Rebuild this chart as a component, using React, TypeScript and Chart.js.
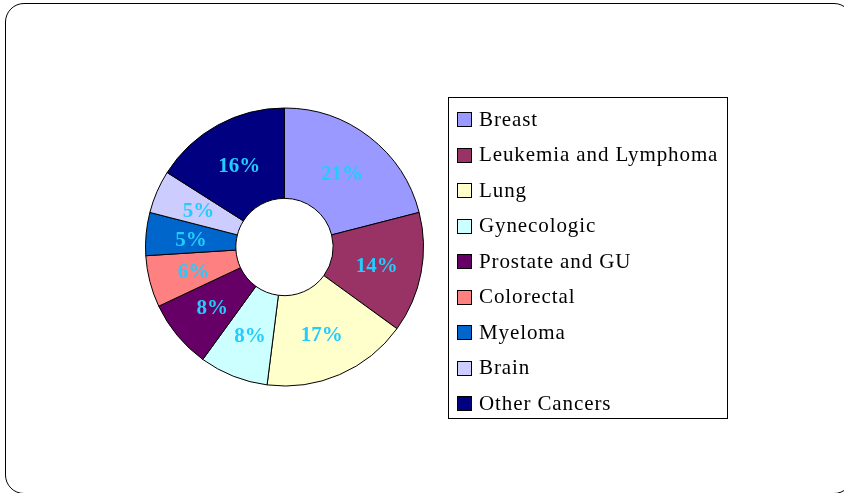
import React, { useEffect, useRef } from "react";
import { Chart, registerables } from "chart.js";

Chart.register(...registerables);

const categories = [
  "Breast",
  "Leukemia and Lymphoma",
  "Lung",
  "Gynecologic",
  "Prostate and GU",
  "Colorectal",
  "Myeloma",
  "Brain",
  "Other Cancers",
];
const shares = [21, 14, 17, 8, 8, 6, 5, 5, 16];
const sliceColors = [
  "#9999FF",
  "#993366",
  "#FFFFCC",
  "#CCFFFF",
  "#660066",
  "#FF8080",
  "#0066CC",
  "#CCCCFF",
  "#000080",
];

const SERIF = '"Liberation Serif", "DejaVu Serif", serif';

const sliceLabelPlugin = {
  id: "sliceLabels",
  afterDatasetsDraw(chart: any) {
    const ctx = chart.ctx;
    const meta = chart.getDatasetMeta(0);
    const values = chart.data.datasets[0].data as number[];
    ctx.save();
    ctx.font = `bold 21px ${SERIF}`;
    ctx.fillStyle = "#22CCFF";
    ctx.textAlign = "center";
    ctx.textBaseline = "middle";
    meta.data.forEach((arc: any, i: number) => {
      const p = arc.getCenterPoint();
      ctx.fillText(values[i] + "%", p.x, p.y + 2);
    });
    ctx.restore();
  },
};

const boxLegendPlugin = {
  id: "boxLegend",
  afterDraw(chart: any) {
    const ctx = chart.ctx;
    const labels = chart.data.labels as string[];
    const colors = chart.data.datasets[0].backgroundColor as string[];
    const boxL = 448.5, boxT = 97.5, boxW = 279, boxH = 321;
    ctx.save();
    ctx.fillStyle = "#ffffff";
    ctx.fillRect(boxL, boxT, boxW, boxH);
    ctx.strokeStyle = "#000000";
    ctx.lineWidth = 1;
    ctx.strokeRect(boxL, boxT, boxW, boxH);
    ctx.font = `21px ${SERIF}`;
    try { (ctx as any).letterSpacing = "0.9px"; } catch (e) {}
    ctx.textAlign = "left";
    ctx.textBaseline = "middle";
    labels.forEach((lab, i) => {
      const cy = 119 + i * 35.5;
      ctx.fillStyle = colors[i];
      ctx.fillRect(457.5, Math.round(cy - 7) + 0.5, 14, 14);
      ctx.strokeStyle = "#000000";
      ctx.strokeRect(457.5, Math.round(cy - 7) + 0.5, 14, 14);
      ctx.fillStyle = "#000000";
      ctx.fillText(lab, 479, cy + 1);
    });
    ctx.restore();
  },
};

export default function App() {
  const ref = useRef<HTMLCanvasElement | null>(null);
  useEffect(() => {
    if (!ref.current) return;
    const chart = new Chart(ref.current, {
      type: "doughnut",
      data: {
        labels: categories,
        datasets: [
          {
            data: shares,
            backgroundColor: sliceColors,
            borderColor: "#000000",
            borderWidth: 1,
            borderAlign: "center",
          },
        ],
      },
      options: {
        animation: false,
        responsive: false,
        devicePixelRatio: 1,
        cutout: "35%",
        layout: { padding: { left: 145, right: 420, top: 107, bottom: 106 } },
        plugins: {
          legend: { display: false },
          tooltip: { enabled: false },
          title: { display: false },
        },
      },
      plugins: [sliceLabelPlugin, boxLegendPlugin],
    });
    return () => chart.destroy();
  }, []);
  return (
    <div
      style={{
        position: "fixed",
        left: 0,
        top: 0,
        width: 844,
        height: 493,
        overflow: "hidden",
        background: "#ffffff",
      }}
    >
      <div
        style={{
          position: "absolute",
          left: 5,
          top: 3,
          width: 848,
          height: 491,
          border: "1.5px solid #000",
          borderRadius: 19,
          boxSizing: "border-box",
        }}
      />
      <canvas
        ref={ref}
        width={844}
        height={493}
        style={{ position: "absolute", left: 0, top: 0, width: 844, height: 493 }}
      />
    </div>
  );
}
